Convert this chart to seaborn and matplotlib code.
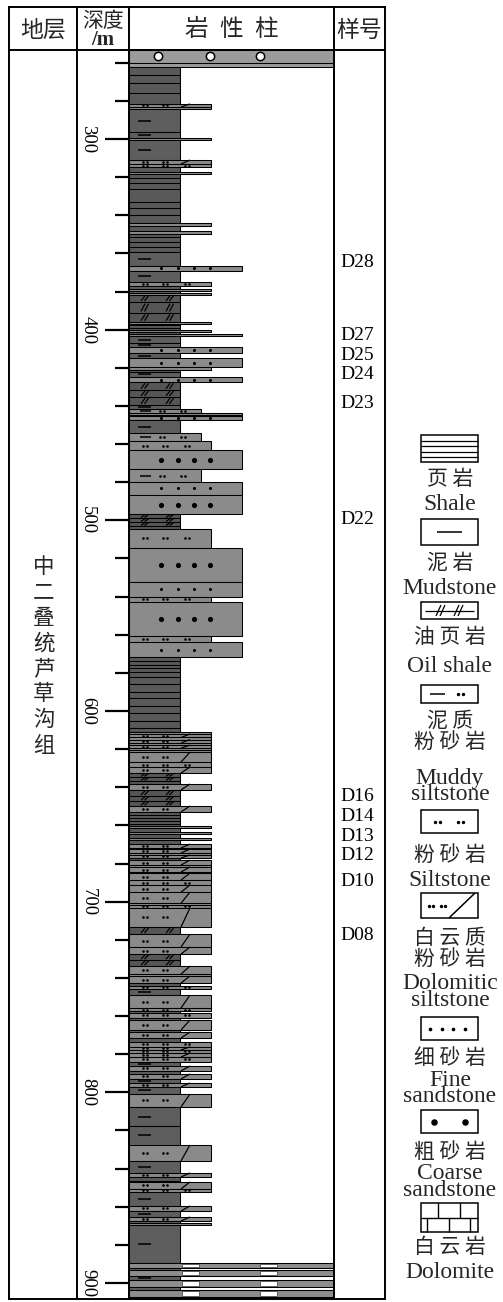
import numpy as np
import matplotlib
matplotlib.use("Agg")
import matplotlib.pyplot as plt
import seaborn as sns
from matplotlib.collections import LineCollection
from matplotlib.patches import Rectangle
from matplotlib.ticker import MultipleLocator

sns.set_theme(style="white")
plt.rcParams["font.family"] = ["Liberation Serif", "DejaVu Serif"]
CJK = ["Noto Sans CJK SC", "DejaVu Sans"]

# ---------------------------------------------------------------- data
# top depth (m) of every bed, from the top of the section downward
layer_top = [
    253.3, 260.1, 262.2, 266.4, 270.6, 275.9, 281.6, 283.2, 284.3, 296.3,
    299.2, 300.3, 311.0, 313.1, 314.7, 317.3, 318.1, 320.5, 323.1, 326.2,
    333.0, 336.2, 339.9, 344.1, 345.4, 348.5, 349.6, 351.4, 354.0, 356.6,
    359.3, 366.6, 369.2, 375.0, 377.1, 378.9, 379.7, 380.8, 381.6, 385.5,
    391.3, 396.0, 396.8, 397.8, 398.9, 400.2, 401.0, 402.3, 403.3, 407.0,
    409.1, 412.2, 414.9, 419.6, 420.9, 422.2, 424.8, 427.5, 431.6, 435.3,
    439.5, 441.6, 443.7, 444.5, 445.3, 447.4, 454.2, 458.4, 463.1, 473.1,
    479.9, 486.7, 496.7, 498.8, 500.9, 503.0, 504.5, 514.5, 532.3, 540.2,
    542.8, 560.7, 563.8, 571.7, 573.8, 575.9, 577.7, 579.6, 582.2, 585.8,
    590.0, 593.2, 597.4, 601.1, 605.3, 609.0, 611.1, 612.1, 613.9, 615.0,
    616.8, 617.9, 619.5, 620.5, 621.6, 626.8, 629.4, 632.5, 634.6, 636.7,
    638.3, 641.4, 644.5, 647.2, 649.8, 653.0, 654.6, 656.1, 657.7, 659.3,
    660.3, 661.4, 663.5, 664.5, 666.6, 667.7, 669.8, 671.9, 672.4, 674.5,
    675.5, 677.1, 678.2, 680.8, 681.8, 684.5, 685.0, 688.7, 691.3, 695.0,
    700.8, 701.8, 703.3, 713.3, 717.0, 723.8, 727.5, 730.6, 733.8, 738.0,
    739.0, 742.7, 744.2, 745.8, 749.0, 755.8, 757.4, 758.4, 761.0, 762.1,
    767.3, 768.4, 771.5, 773.6, 776.2, 777.8, 779.4, 781.5, 784.1, 786.2,
    788.8, 790.4, 793.0, 795.1, 797.2, 800.9, 807.7, 817.7, 827.6, 836.0,
    842.3, 844.4, 846.5, 847.0, 850.7, 852.3, 859.6, 862.3, 865.4, 867.5,
    868.6, 869.6, 889.5, 892.2, 893.2, 896.3, 898.5, 902.1, 903.7, 907.4,
]
# lithology of every bed
# CG conglomerate, SH shale, MS mudstone, OS oil shale, MSL muddy siltstone,
# SS siltstone, DS dolomitic siltstone, FS fine sandstone, CS coarse sandstone,
# DO dolomite
layer_lith = [
    "CG", "CG", "SH", "SH", "SH", "SH", "DS", "SS", "MS", "MS",
    "SS", "MS", "DS", "SS", "SH", "SS", "SH", "SH", "SH", "SH",
    "SH", "SH", "SH", "SS", "SH", "SS", "SH", "SH", "SH", "SH",
    "MS", "FS", "MS", "SS", "MS", "SS", "MS", "SS", "OS", "OS",
    "OS", "SS", "SH", "SH", "SH", "SS", "SH", "FS", "MS", "MS",
    "FS", "MS", "FS", "SS", "SH", "MS", "FS", "OS", "OS", "OS",
    "MS", "MSL", "FS", "SS", "FS", "MS", "MSL", "SS", "CS", "MSL",
    "FS", "CS", "OS", "OS", "OS", "OS", "SS", "CS", "FS", "SS",
    "CS", "SS", "FS", "SH", "SH", "SH", "SH", "SH", "SH", "SH",
    "SH", "SH", "SH", "SH", "SH", "SH", "SS", "DS", "SS", "DS",
    "SS", "DS", "SS", "SS", "DS", "SS", "DS", "OS", "OS", "OS",
    "DS", "OS", "OS", "OS", "DS", "SH", "SH", "SH", "SH", "SH",
    "SS", "SH", "SS", "SH", "SS", "SH", "DS", "SS", "DS", "SS",
    "DS", "SH", "DS", "SS", "DS", "SS", "DS", "SS", "DS", "DS",
    "SS", "SS", "DS", "OS", "DS", "DS", "OS", "OS", "DS", "SS",
    "DS", "SH", "SS", "MS", "DS", "SS", "MS", "SS", "MS", "DS",
    "MS", "DS", "SH", "SS", "DS", "SS", "DS", "SS", "MS", "DS",
    "MS", "DS", "MS", "DS", "MS", "DS", "MS", "MS", "DS", "MS",
    "DS", "SH", "MS", "DS", "SS", "MS", "DS", "MS", "DS", "MS",
    "SS", "MS", "DO", "MS", "DO", "MS", "DO", "MS", "DO", "MS",
]
column_base = 907.9

depth_ticks = [300, 400, 500, 600, 700, 800, 900]

sample_names = ["D28", "D27", "D25", "D24", "D23", "D22",
                "D16", "D14", "D13", "D12", "D10", "D08"]
sample_depth = [365.0, 403.3, 413.3, 423.3, 438.5, 499.3,
                645.1, 655.6, 665.6, 675.6, 689.2, 717.5]

formation_name = "中二叠统芦草沟组"
header_titles = ["地层", "深度", "/m", "岩性柱", "样号"]

legend_cn = [["页岩"], ["泥岩"], ["油页岩"], ["泥质", "粉砂岩"], ["粉砂岩"],
             ["白云质", "粉砂岩"], ["细砂岩"], ["粗砂岩"], ["白云岩"]]
legend_en = [["Shale"], ["Mudstone"], ["Oil shale"], ["Muddy", "siltstone"],
             ["Siltstone"], ["Dolomitic", "siltstone"], ["Fine", "sandstone"],
             ["Coarse", "sandstone"], ["Dolomite"]]

# ---------------------------------------------------------------- styles
LITH_WIDTH = {"SH": 51, "MS": 51, "OS": 51, "MSL": 72, "SS": 82, "DS": 82,
              "FS": 113, "CS": 113, "CG": 205, "DO": 205}
LITH_COLOR = {"SH": "#595959", "MS": "#5e5e5e", "OS": "#565656",
              "MSL": "#8b8b8b", "SS": "#8a8a8a", "DS": "#8a8a8a",
              "FS": "#8b8b8b", "CS": "#8b8b8b", "CG": "#9b9b9b",
              "DO": "#8d8d8d"}

W, H = 503, 1302
X0, X1 = 129, 334          # lithology column
YTOP, YBOT = 50, 1298       # body of the table
TABLE_TOP, TABLE_BOT = 7, 1299
COLS = [9, 77, 129, 334, 385]

fig = plt.figure(figsize=(W / 100, H / 100), dpi=100)
fig.patch.set_facecolor("white")

bg = fig.add_axes([0, 0, 1, 1])
bg.set_xlim(0, W)
bg.set_ylim(H, 0)
bg.axis("off")

ax = fig.add_axes([X0 / W, 1 - YBOT / H, (X1 - X0) / W, (YBOT - YTOP) / H])
ax.patch.set_alpha(0)

# ---------------------------------------------------------------- beds
tops = np.array(layer_top)
bots = np.append(tops[1:], column_base)
thick = bots - tops
widths = [LITH_WIDTH[c] for c in layer_lith]
colors = [LITH_COLOR[c] for c in layer_lith]
ax.barh(tops, widths, height=thick, left=0, align="edge", color=colors,
        edgecolor="black", linewidth=0.75, zorder=2)

m_px = (column_base - layer_top[0]) / (YBOT - YTOP)   # metres per pixel

dash_segs, slash_segs = [], []
pair_dots, fine_dots, big_dots, rings = [], [], [], []
for t, b, c in zip(tops, bots, layer_lith):
    h = b - t
    m = (t + b) / 2
    if c == "MS" and h >= 2:
        dash_segs.append([(9, m), (22, m)])
    elif c == "MSL" and h >= 2:
        dash_segs.append([(11, m), (22, m)])
        for xc in (33, 54):
            pair_dots += [(xc - 1.7, m), (xc + 1.7, m)]
    elif c in ("SS", "DS") and h >= 1.4:
        centers = (16, 36, 58) if c == "SS" else (16, 36)
        for xc in centers:
            pair_dots += [(xc - 1.7, m), (xc + 1.7, m)]
        if c == "DS":
            slash_segs.append([(52, b), (61, t)])
    elif c == "FS" and h >= 2:
        fine_dots += [(xc, m) for xc in (32, 49, 65, 81)]
    elif c == "CS":
        big_dots += [(xc, m) for xc in (32, 49, 65, 81)]
    elif c == "OS" and h >= 2:
        hh = min(0.35 * h, 3.0)
        for xc in (14, 39):
            for dx in (0, 3.5):
                slash_segs.append([(xc - 2 + dx, m + hh), (xc + 2 + dx, m - hh)])
    elif c == "CG" and h >= 4:
        rings += [(xc, m) for xc in (29, 81, 131)]
    elif c == "DO":
        for xs in (53, 131):
            ax.add_patch(Rectangle((xs, t + 1.0 * m_px), 17, h - 2.0 * m_px,
                                   facecolor="white", edgecolor="#333333",
                                   linewidth=0.5, zorder=3))

ax.add_collection(LineCollection(dash_segs, colors="black", linewidths=1.1, zorder=4))
ax.add_collection(LineCollection(slash_segs, colors="black", linewidths=0.9, zorder=4))


def dots(points, size, **kw):
    if not points:
        return
    p = np.array(points)
    sns.scatterplot(x=p[:, 0], y=p[:, 1], ax=ax, s=size, legend=False,
                    zorder=5, **kw)


dots(pair_dots, 3.5, color="black", linewidth=0)
dots(fine_dots, 5, color="black", linewidth=0)
dots(big_dots, 14, color="black", linewidth=0)
dots(rings, 36, facecolor="white", edgecolor="black", linewidth=1.1)

# ---------------------------------------------------------------- depth axis
ax.set_xlim(0, X1 - X0)
ax.set_ylim(column_base, layer_top[0])
ax.set_xticks([])
ax.set_yticks(depth_ticks)
ax.set_yticklabels([str(d) for d in depth_ticks])
ax.yaxis.set_minor_locator(MultipleLocator(20))
ax.tick_params(axis="y", which="both", left=True, direction="out",
               color="black", width=1.6)
ax.tick_params(axis="y", which="major", length=17, pad=6.5,
               labelsize=13.5, labelrotation=-90, labelcolor="black")
ax.tick_params(axis="y", which="minor", length=10)
for lab in ax.get_yticklabels():
    lab.set_va("center")
for s in ax.spines.values():
    s.set_visible(True)
    s.set_color("black")
    s.set_linewidth(1.4)
    s.set_zorder(6)

# ---------------------------------------------------------------- samples
for name, d in zip(sample_names, sample_depth):
    ax.text(211, d, name, ha="left", va="center", fontsize=14,
            color="black", clip_on=False)

# ---------------------------------------------------------------- table
lw_t = 1.4
for y in (TABLE_TOP, YTOP, TABLE_BOT):
    bg.plot([COLS[0], COLS[-1]], [y, y], color="black", lw=lw_t,
            solid_capstyle="projecting")
for x in COLS:
    bg.plot([x, x], [TABLE_TOP, TABLE_BOT], color="black", lw=lw_t,
            solid_capstyle="projecting")

hdr_y = 30
bg.text(43, hdr_y, header_titles[0], ha="center", va="center",
        fontsize=16.5, family=CJK)
bg.text(103.5, 21, header_titles[1], ha="center", va="center",
        fontsize=15, family=CJK)
bg.text(103, 40, header_titles[2], ha="center", va="center",
        fontsize=15, fontweight="bold")
for ch, xc in zip(header_titles[3], (196, 231, 266)):
    bg.text(xc, hdr_y, ch, ha="center", va="center", fontsize=17, family=CJK)
bg.text(359.5, hdr_y, header_titles[4], ha="center", va="center",
        fontsize=16.5, family=CJK)

for i, ch in enumerate(formation_name):
    bg.text(44, 567 + i * 25.5, ch, ha="center", va="center",
            fontsize=15.5, family=CJK)

# ---------------------------------------------------------------- legend
LX0, LX1 = 421, 478
LCX = 450
boxes = [(435, 462), (519, 545), (602, 619), (685, 703), (810, 833),
         (893, 918), (1017, 1040), (1110, 1133), (1203, 1232)]
cn_y = [479, 563, 637, 731.5, 855, 948.5, 1058, 1152, 1247]
en_y = [505, 589, 667, 786.5, 880, 992, 1088.5, 1182, 1272]

for (y0, y1) in boxes:
    bg.add_patch(Rectangle((LX0, y0), LX1 - LX0, y1 - y0, facecolor="white",
                           edgecolor="black", linewidth=1.1, zorder=2))


def seg(x0, y0, x1, y1, lw=1.0):
    bg.plot([x0, x1], [y0, y1], color="black", lw=lw, zorder=3,
            solid_capstyle="butt")


def ldot(x, y, s):
    bg.scatter([x], [y], s=s, color="black", linewidths=0, zorder=3)


# shale
for y in (440.5, 446, 451.5, 457):
    seg(LX0, y, LX1, y, 0.9)
# mudstone
seg(437, 532, 462, 532, 1.1)
# oil shale
seg(425, 610.5, 474, 610.5, 0.9)
for xc in (439, 457):
    for dx in (0, 4):
        seg(xc - 3 + dx, 616, xc + 2 + dx, 605, 0.9)
# muddy siltstone
seg(430, 694, 445, 694, 1.1)
ldot(458.5, 694, 6)
ldot(463, 694, 6)
# siltstone
for xc in (437.5, 460.5):
    ldot(xc - 2.2, 821.5, 6)
    ldot(xc + 2.2, 821.5, 6)
# dolomitic siltstone
for xc in (429, 433.5, 441, 445.5):
    ldot(xc, 905.5, 6)
seg(449, 918, 475, 893, 1.1)
# fine sandstone
for xc in (430, 442, 453.5, 465):
    ldot(xc, 1028.5, 7)
# coarse sandstone
for xc in (434, 465):
    ldot(xc, 1121.5, 22)
# dolomite
seg(LX0, 1217.5, LX1, 1217.5, 1.0)
for xc in (438.5, 460):
    seg(xc, 1203, xc, 1217.5, 1.0)
for xc in (427.5, 449, 470):
    seg(xc, 1217.5, xc, 1232, 1.0)

for lines, y in zip(legend_cn, cn_y):
    txt = "\n".join(" ".join(line) for line in lines)
    bg.text(LCX, y, txt, ha="center", va="center", fontsize=15,
            family=CJK, linespacing=0.95, multialignment="center")
for lines, y in zip(legend_en, en_y):
    bg.text(LCX, y, "\n".join(lines), ha="center", va="center", fontsize=17,
            linespacing=0.72, multialignment="center")

fig.savefig("out.png", dpi=100, facecolor="white")
